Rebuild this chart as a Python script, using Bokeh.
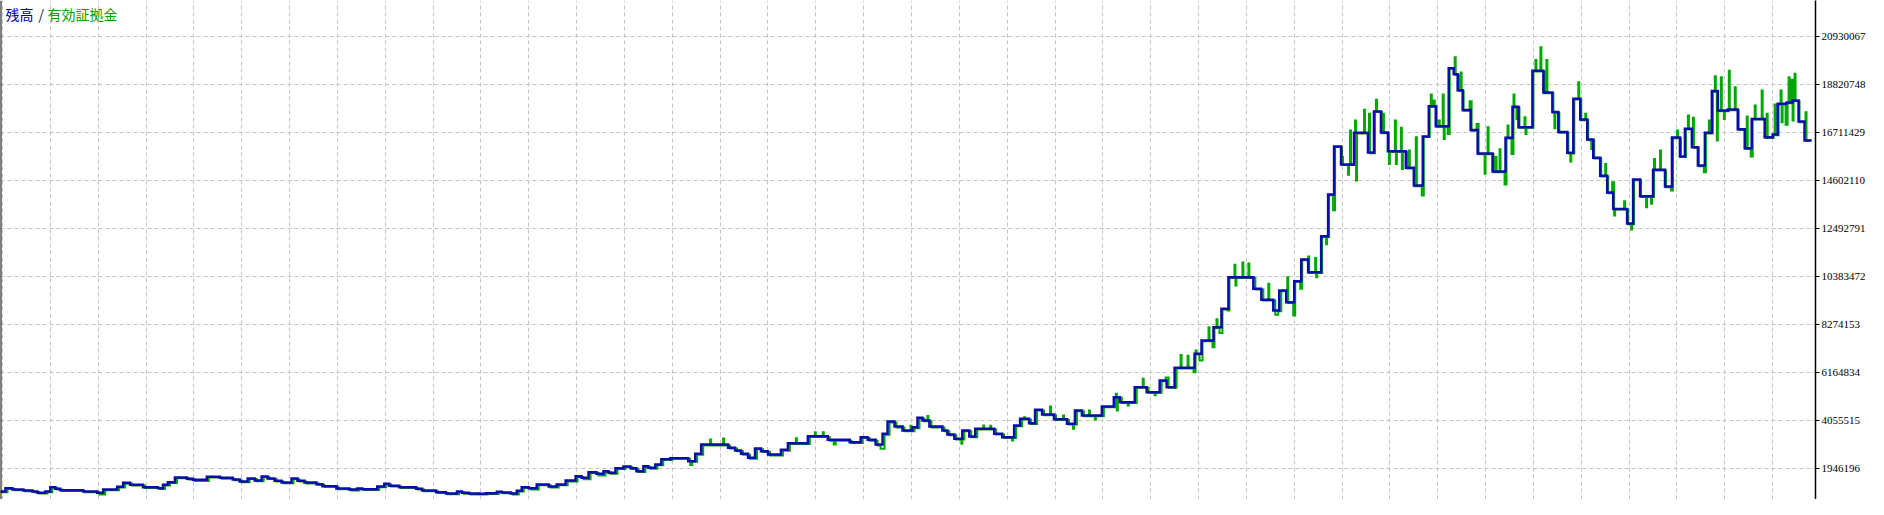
from bokeh.plotting import figure
from bokeh.models import Range1d, LinearAxis, FixedTicker, Grid, Label, Span, NumeralTickFormatter
from bokeh.embed import file_html
from bokeh.resources import INLINE

# ---- data: (trade no., balance in million yen), step changes ----
balance_1 = [(0,0.935),(5,1.082),(12,1.023),(23,0.979),(32,0.935),(37,0.877),(45,0.935),(50,1.126),(55,1.053),(60,0.994),
    (83,0.935),(97,0.877),(103,1.023),(117,1.140),(123,1.316),(130,1.228),(143,1.126),(158,1.082),(163,1.228),(168,1.345),
    (175,1.551),(187,1.492),(193,1.448),(207,1.580),(220,1.536),(233,1.463),(240,1.375),(248,1.507),(255,1.419),(262,1.594),
    (268,1.507),(275,1.404),(282,1.331),(292,1.507),(298,1.404),(305,1.331),(317,1.258),(323,1.170),(337,1.067),(350,1.023),
    (358,1.067),(363,1.038),(378,1.155),(385,1.272),(390,1.184),(400,1.126),(417,1.053),(423,0.979),(437,0.906),(447,0.847),
    (458,0.935),(463,0.877),(470,0.847)]
balance_2 = [(480,0.834),(487,0.863),(498,0.922),(503,0.892),(512,0.848),(518,0.966),(523,1.126),(530,1.082),(538,1.243),(550,1.155),
    (558,1.243),(567,1.419),(577,1.609),(583,1.536),(590,1.785),(598,1.712),(605,1.829),(610,1.756),(617,1.961),(625,2.034),
    (632,1.961),(638,1.829),(645,2.049),(650,1.975),(657,2.122),(663,2.356),(672,2.400),(690,2.268),(697,2.590),(703,3.000),
    (730,2.854),(737,2.737),(743,2.590),(750,2.414),(757,2.825),(763,2.707),(770,2.561),(783,2.766),(790,3.058),(810,3.366),
    (830,3.205),(852,3.102),(863,3.322),(870,3.205),(878,3.000),(885,3.469),(890,4.011),(897,3.791),(905,3.615),(915,3.762),
    (920,4.174),(925,4.056),(932,3.791),(945,3.615)]
balance_3 = [(950,3.440),(957,3.249),(965,3.616),(972,3.352),(978,3.689),(997,3.469),(1005,3.323),(1017,3.836),(1023,4.129),(1032,3.938),
    (1038,4.525),(1045,4.320),(1057,4.115),(1070,3.909),(1078,4.496),(1085,4.276),(1105,4.671),(1117,5.079),(1123,4.861),(1138,5.519),
    (1150,5.299),(1163,5.813),(1170,5.519),(1178,6.371),(1198,6.986),(1205,7.570),(1217,8.155),(1225,8.964),(1232,10.352),(1257,9.841),
    (1265,9.359),(1277,8.889),(1283,9.768),(1290,9.254),(1298,10.176),(1305,11.130),(1312,10.572),(1325,12.155),(1332,13.986)]
balance_4 = [(1338,16.096),(1345,15.305),(1358,16.697),(1372,15.832),(1378,17.634),(1385,16.711),(1392,15.891),(1410,15.159),(1418,14.382),(1427,16.535),
    (1433,17.869),(1440,16.990),(1453,19.535),(1458,19.271),(1462,18.568),(1467,17.696),(1475,16.820),(1482,15.788),(1497,14.997),(1510,16.480),
    (1517,17.840),(1523,16.946),(1537,19.420),(1548,18.466),(1557,17.608),(1563,16.730),(1572,15.818),(1578,18.190),(1585,17.280),(1592,16.403),
    (1598,15.598),(1605,14.807),(1612,14.070),(1618,13.355),(1632,12.710),(1638,14.641),(1645,13.908),(1658,15.070),(1670,14.338),(1677,16.490),
    (1685,15.656),(1690,16.872),(1697,16.067),(1703,15.261),(1710,16.697),(1717,18.530),(1723,17.677),(1733,17.720),(1743,16.850),(1750,16.020),
    (1757,17.310),(1770,16.500),(1778,16.620),(1783,17.970),(1792,18.030),(1798,18.120),(1804,17.190),(1810,16.360),(1817,16.360)]

# ---- data: (trade no., equity in million yen) ----
equity_1 = [(0,0.90),(7,1.05),(14,0.99),(25,0.95),(34,0.90),(39,0.85),(47,0.90),(52,1.10),(57,1.02),(62,0.96),
    (85,0.90),(99,0.80),(105,0.99),(119,1.11),(125,1.28),(132,1.20),(145,1.09),(160,1.05),(165,1.20),(170,1.31),
    (177,1.52),(189,1.46),(195,1.40),(209,1.55),(222,1.50),(235,1.43),(242,1.34),(250,1.48),(257,1.39),(264,1.56),
    (270,1.48),(277,1.37),(284,1.30),(294,1.47),(300,1.37),(307,1.29),(319,1.23),(325,1.14),(339,1.03),(352,0.98),
    (360,1.03),(365,1.00),(380,1.12),(387,1.24),(392,1.15),(402,1.09),(419,1.02),(425,0.95),(439,0.87),(449,0.81),
    (460,0.90),(465,0.84),(472,0.80),(482,0.80),(489,0.83),(500,0.89),(505,0.86),(514,0.80),(520,0.93),(525,1.09),
    (532,1.02),(540,1.21),(552,1.11),(560,1.21),(569,1.38),(579,1.57),(585,1.47),(592,1.75),(600,1.64),(607,1.79),
    (612,1.72),(619,1.92),(627,2.00),(634,1.92),(640,1.79),(647,2.01),(652,1.94),(659,2.09),(665,2.32),(674,2.37),
    (692,2.10),(694,2.24),(699,2.55),(705,2.96),(712,3.22),(713,2.96),(725,3.26),(726,2.96),(732,2.82),(739,2.70),
    (745,2.55),(752,2.38),(759,2.79),(765,2.67),(772,2.52),(785,2.73),(792,3.02),(798,3.28),(799,3.02),(812,3.33),
    (817,3.54),(818,3.33),(825,3.54),(826,3.33),(832,3.17),(836,3.00),(838,3.17),(854,3.07),(865,3.29),(872,3.17),
    (880,2.96),(883,2.81),(887,3.43),(892,3.97),(899,3.75),(907,3.58),(913,3.83),(914,3.58),(917,3.72),(922,4.14),
    (927,4.02),(930,4.25),(931,4.02),(934,3.75),(947,3.58)]
equity_2 = [(952,3.41),(959,3.22),(964,3.03),(965,3.22),(967,3.58),(974,3.32),(980,3.66),(986,3.84),(987,3.66),(993,3.82),
    (994,3.66),(999,3.44),(1007,3.29),(1015,3.18),(1016,3.29),(1019,3.80),(1025,4.10),(1027,4.20),(1028,4.10),(1034,3.90),
    (1040,4.49),(1047,4.29),(1053,4.67),(1054,4.29),(1059,4.08),(1066,4.28),(1067,4.08),(1072,3.88),(1076,3.69),(1077,3.88),
    (1080,4.46),(1087,4.24),(1092,4.50),(1093,4.24),(1098,4.10),(1099,4.24),(1107,4.64),(1119,5.23),(1120,4.50),(1121,5.05),
    (1125,4.83),(1131,4.72),(1132,4.83),(1140,5.49),(1146,5.89),(1147,5.49),(1152,5.27),(1158,5.16),(1159,5.27),(1165,5.78),
    (1169,5.95),(1172,5.49),(1180,6.34),(1184,6.93),(1185,6.34),(1191,6.90),(1192,6.34),(1197,6.18),(1199,7.13),(1200,6.96),
    (1203,6.69),(1206,7.54),(1212,8.15),(1213,7.54),(1216,7.27),(1218,8.12),(1220,8.50),(1221,8.12),(1223,7.90),(1226,8.93),
    (1231,8.89),(1233,10.32),(1238,10.90),(1239,9.99),(1240,10.32),(1246,11.00),(1247,10.32),(1252,10.95),(1253,10.32),(1259,9.81),
    (1267,9.33),(1272,10.06),(1273,9.33),(1279,8.70),(1282,8.86),(1285,9.74),(1291,10.35),(1292,9.22),(1297,8.67),(1299,10.15),
    (1304,9.84),(1306,11.10),(1312,11.26),(1313,10.54),(1319,11.20),(1320,10.35),(1321,10.54),(1326,12.12),(1330,11.80),(1331,12.12),
    (1333,13.95),(1337,13.30)]
equity_3 = [(1339,16.07),(1346,15.63),(1347,15.28),(1352,14.86),(1353,15.28),(1354,16.80),(1355,15.28),(1359,17.24),(1360,14.60),(1361,16.67),
    (1368,17.71),(1369,16.67),(1373,17.53),(1374,15.80),(1379,17.61),(1380,18.15),(1381,17.61),(1386,16.68),(1387,17.53),(1388,16.68),
    (1393,15.33),(1394,15.86),(1399,17.24),(1400,15.33),(1401,15.86),(1405,16.92),(1406,15.11),(1407,15.86),(1411,15.13),(1413,15.92),
    (1414,15.13),(1419,14.35),(1420,16.50),(1421,14.35),(1426,13.94),(1428,16.51),(1434,17.84),(1435,18.38),(1436,17.84),(1438,18.12),
    (1439,17.84),(1441,16.96),(1443,17.24),(1444,16.96),(1447,18.38),(1448,16.43),(1449,16.96),(1452,16.65),(1454,19.51),(1459,20.02),
    (1460,19.24),(1463,18.54),(1465,19.35),(1466,18.54),(1468,17.67),(1474,18.09),(1476,16.79),(1481,17.09),(1483,15.76),(1489,14.90),
    (1490,15.76),(1492,16.94),(1493,15.76),(1498,14.97),(1500,15.63),(1501,14.97),(1504,15.98),(1505,14.97),(1509,14.43),(1511,16.45),
    (1512,17.02),(1513,16.45),(1516,15.77),(1518,18.38),(1519,17.81),(1521,17.31),(1522,17.81),(1524,16.92),(1529,17.38),(1530,16.65),
    (1531,16.92),(1538,19.39),(1540,19.90),(1541,19.39),(1545,20.46),(1546,19.39),(1549,18.44),(1551,19.90),(1552,18.44),(1558,17.58),
    (1559,16.90),(1560,17.58),(1564,16.70),(1573,15.79),(1575,15.44),(1576,15.79),(1579,18.16),(1583,18.92),(1584,18.16),(1586,17.25),
    (1590,17.53),(1591,17.25),(1593,16.37),(1596,15.99),(1597,16.37),(1599,15.57),(1606,14.78),(1610,15.33),(1611,14.78),(1613,14.04),
    (1617,14.53),(1619,13.06),(1620,13.33),(1629,13.69),(1630,13.33),(1633,12.68),(1636,12.45),(1637,12.68),(1639,14.61),(1646,13.88),
    (1651,13.43),(1652,13.88),(1656,13.58),(1657,13.88),(1659,15.55),(1660,15.04),(1665,15.92),(1666,15.04),(1671,14.31),(1676,14.16),
    (1678,16.46),(1682,16.80),(1683,16.46),(1686,15.63),(1691,16.84),(1693,17.46),(1694,16.84),(1698,17.36),(1699,16.04),(1704,15.23),
    (1709,14.97),(1711,16.67),(1714,17.24),(1715,16.67),(1718,18.50),(1720,19.18),(1721,18.50),(1722,16.36),(1723,17.65),(1726,19.14),
    (1727,17.65),(1729,17.31),(1730,17.65),(1734,19.43),(1735,17.69),(1740,18.70),(1741,17.69),(1744,16.82),(1751,15.99),(1752,17.41),
    (1753,15.99),(1756,15.66),(1758,17.28),(1760,17.90),(1761,17.28),(1767,18.56),(1768,17.28),(1771,16.47),(1772,17.53),(1773,16.47),
    (1779,16.59),(1780,17.94),(1781,16.59),(1784,17.94),(1786,18.56),(1787,17.16),(1788,17.94),(1791,17.05),(1793,18.00),(1794,19.14),
    (1795,18.00),(1797,19.03),(1798,17.24),(1799,18.09),(1800,19.29),(1801,18.09),(1805,17.16),(1811,17.60),(1812,16.36),(1817,16.36)]

# right-axis tick values and vertical grid positions (trade no.)
y_ticks = [20930067, 18820748, 16711429, 14602110, 12492791, 10383472, 8274153, 6164834, 4055515, 1946196, -163123]
x_grid = [2, 50, 98, 146, 194, 242, 290, 338, 386, 434, 482, 530, 578, 626, 674, 722, 770, 818, 866, 914, 962,
          1010, 1058, 1106, 1154, 1202, 1250, 1298, 1346, 1394, 1442, 1490, 1538, 1586, 1634, 1682, 1730, 1778]

legend_parts = ["残高", "/", "有効証拠金"]
legend_colors = ["#0000a0", "#202020", "#00a000"]

# ---- build ----
bal = balance_1 + balance_2 + balance_3 + balance_4
eq = equity_1 + equity_2 + equity_3
bal_x = [a for a, b in bal]
bal_y = [b * 1e6 for a, b in bal]
eq_x = [a for a, b in eq]
eq_y = [b * 1e6 for a, b in eq]

X0, X1 = 0, 1821
Y0, Y1 = 583928, 22512056

p = figure(width=1868, height=499, x_range=Range1d(X0, X1), y_range=Range1d(Y0, Y1),
           x_axis_type=None, y_axis_type=None, toolbar_location=None, output_backend="svg",
           min_border_left=0, min_border_top=0, min_border_bottom=0, min_border_right=47,
           outline_line_color=None, background_fill_color="white", border_fill_color="white")

p.add_layout(Grid(dimension=1, ticker=FixedTicker(ticks=y_ticks), grid_line_color="#c4c4c4",
                  grid_line_dash="4 3", grid_line_width=1))
p.add_layout(Grid(dimension=0, ticker=FixedTicker(ticks=x_grid), grid_line_color="#c4c4c4",
                  grid_line_dash="4 3", grid_line_width=1))

p.step(eq_x, eq_y, mode="after", line_color="#00a800", line_width=2, line_join="miter")
p.step(bal_x, bal_y, mode="after", line_color="#0a0aad", line_width=2.5, line_join="miter")

yaxis = LinearAxis(ticker=FixedTicker(ticks=y_ticks), formatter=NumeralTickFormatter(format="0"),
                   axis_line_color="black", axis_line_width=1.5, major_tick_line_color="black",
                   major_tick_in=0, major_tick_out=4, minor_tick_line_color=None, major_label_standoff=2,
                   major_label_text_font="Liberation Sans Narrow", major_label_text_font_size="11px",
                   major_label_text_color="black")
p.add_layout(yaxis, "right")

p.add_layout(Span(location=X0, dimension="height", line_color="black", line_width=2))

offsets = [5, 38, 47]
for txt, col, off in zip(legend_parts, legend_colors, offsets):
    p.add_layout(Label(x=X0, y=Y1, text=txt, x_offset=off, y_offset=-3, text_baseline="top",
                       text_align="left", text_color=col, text_font="Noto Sans CJK JP",
                       text_font_size="14px"))

open("out.html", "w").write(file_html(p, INLINE))
